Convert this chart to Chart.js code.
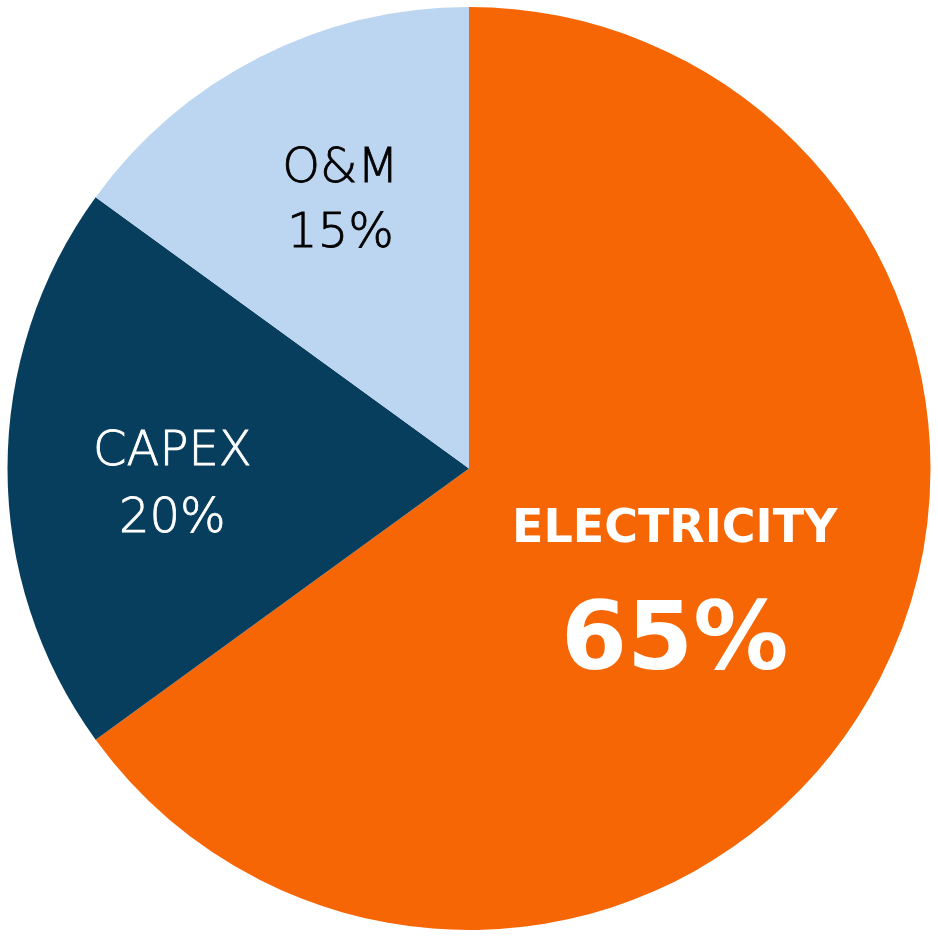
<!DOCTYPE html>
<html>
<head>
<meta charset="utf-8">
<script src="https://cdn.jsdelivr.net/npm/chart.js@4"></script>
<style>
html,body{margin:0;padding:0;background:#fff;}
#wrap{width:938px;height:937px;position:relative;}
</style>
</head>
<body>
<div id="wrap"><canvas id="c"></canvas></div>
<script>
const categories = ["ELECTRICITY", "CAPEX", "O&M"];
const values = [65, 20, 15];
const valueLabels = ["65%", "20%", "15%"];
const sliceColors = ["#F76604", "#073E5D", "#BCD5F0"];

const labelPlugin = {
  id: 'sliceLabels',
  afterDatasetsDraw(chart) {
    const ctx = chart.ctx;
    const meta = chart.getDatasetMeta(0);
    const light = '"DejaVu Sans ExtraLight", "DejaVu Sans"';
    const styles = [
      {factor: 0.51, dx: -4, color: '#fff', f1: '700 46px "DejaVu Sans"', f2: '700 95px "DejaVu Sans"', b1: -33, b2: 94},
      {factor: 0.645, dx: 1, color: '#fff', f1: '200 48px ' + light, f2: '200 48px ' + light, b1: -4, b2: 63},
      {factor: 0.647, dx: 7, color: '#000', f1: '200 48px ' + light, f2: '200 48px ' + light, b1: -20, b2: 45}
    ];
    meta.data.forEach((arc, i) => {
      const p = arc.getProps(['x','y','startAngle','endAngle','outerRadius'], true);
      const s = styles[i];
      const mid = (p.startAngle + p.endAngle) / 2;
      const r = p.outerRadius * s.factor;
      const cx = p.x + Math.cos(mid) * r + s.dx;
      const cy = p.y + Math.sin(mid) * r;
      ctx.save();
      ctx.fillStyle = s.color;
      ctx.strokeStyle = s.color;
      ctx.lineWidth = i === 0 ? 0 : 0.8;
      ctx.textAlign = 'center';
      ctx.textBaseline = 'alphabetic';
      ctx.font = s.f1;
      ctx.fillText(categories[i], cx, cy + s.b1);
      if (i !== 0) ctx.strokeText(categories[i], cx, cy + s.b1);
      ctx.font = s.f2;
      ctx.fillText(valueLabels[i], cx, cy + s.b2);
      if (i !== 0) ctx.strokeText(valueLabels[i], cx, cy + s.b2);
      ctx.restore();
    });
  }
};

new Chart(document.getElementById('c'), {
  type: 'pie',
  data: {
    labels: categories,
    datasets: [{
      data: values,
      backgroundColor: sliceColors,
      borderWidth: 0
    }]
  },
  options: {
    responsive: true,
    maintainAspectRatio: false,
    animation: false,
    layout: {padding: {top: 7, bottom: 7, left: 7, right: 7}},
    plugins: {legend: {display: false}, tooltip: {enabled: false}}
  },
  plugins: [labelPlugin]
});
</script>
</body>
</html>
